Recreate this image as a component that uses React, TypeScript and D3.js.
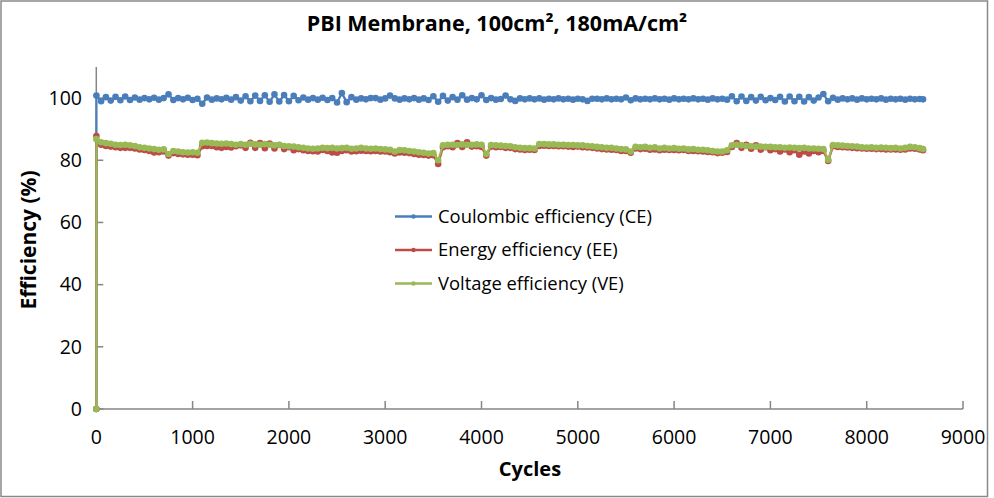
import React from 'react';
import * as d3 from 'd3';

const cycles: number[] = [0, 1, ...d3.range(50, 8551, 50), 8585];

const ceValues: number[] = [
  0, 100.8,
  99.0, 100.3, 99.2, 100.4, 99.3, 100.5, 99.4, 100.2, 99.5, 100.0,
  99.6, 100.1, 99.5, 100.0, 101.2, 99.4, 100.0, 99.6, 100.1, 99.4,
  99.8, 98.2, 100.2, 99.5, 99.9, 99.6, 100.1, 99.5, 100.3, 99.2,
  100.6, 99.0, 100.8, 99.1, 100.9, 98.8, 101.2, 98.9, 101.0, 99.0,
  100.7, 99.3, 100.2, 99.5, 100.0, 99.5, 100.1, 99.4, 100.0, 98.6,
  101.6, 98.7, 100.3, 99.5, 99.9, 99.6, 100.0, 100.0, 99.5, 99.9,
  100.8, 99.9, 99.5, 99.9, 99.6, 100.0, 99.5, 99.9, 99.4, 100.6,
  98.8, 100.7, 99.2, 100.3, 99.5, 100.9, 99.5, 100.0, 99.6, 100.9,
  99.4, 100.0, 99.5, 99.7, 100.8, 99.6, 99.1, 99.9, 99.6, 99.9,
  99.6, 99.9, 99.5, 99.8, 99.6, 99.9, 99.6, 99.8, 99.5, 99.8,
  99.6, 99.1, 99.8, 99.8, 99.6, 99.9, 99.6, 99.8, 99.6, 100.2,
  99.3, 99.9, 99.6, 99.8, 99.6, 99.9, 99.6, 99.8, 99.5, 99.9,
  99.6, 99.8, 99.6, 99.9, 99.6, 99.8, 99.5, 99.9, 99.6, 99.8,
  99.5, 100.6, 99.0, 100.5, 99.1, 100.3, 99.2, 100.4, 99.3, 100.0,
  99.4, 100.4, 98.9, 100.5, 99.0, 100.4, 98.9, 100.3, 99.2, 100.2,
  101.3, 99.0, 100.1, 99.5, 99.9, 99.6, 99.9, 99.5, 99.9, 99.6,
  99.8, 99.6, 99.9, 99.5, 99.8, 99.6, 99.8, 99.5, 99.8, 99.6,
  99.7, 99.6,
];

const eeValues: number[] = [
  0, 87.8,
  85.0, 84.6, 84.4, 84.2, 84.0, 84.0, 84.0, 83.8, 83.5, 83.3,
  83.0, 82.5, 82.6, 82.8, 81.5, 82.3, 82.0, 81.9, 81.8, 81.8,
  81.6, 84.5, 84.6, 84.6, 84.2, 84.0, 84.3, 84.1, 84.5, 84.8,
  84.0, 85.6, 84.0, 85.5, 83.9, 85.4, 83.8, 84.9, 83.6, 84.2,
  83.2, 83.6, 83.2, 83.0, 82.9, 82.8, 83.3, 83.0, 82.5, 82.4,
  83.0, 83.2, 82.8, 82.9, 83.1, 83.0, 82.9, 83.0, 82.8, 82.8,
  82.6, 82.2, 82.5, 82.4, 82.3, 82.0, 81.8, 81.7, 81.5, 81.6,
  78.8, 84.2, 84.5, 84.2, 85.5, 84.3, 85.8, 84.4, 84.5, 84.3,
  81.5, 84.4, 84.2, 84.3, 84.0, 84.0, 83.6, 83.5, 83.3, 83.4,
  83.3, 84.6, 84.7, 84.6, 84.6, 84.5, 84.5, 84.4, 84.3, 84.4,
  84.2, 84.1, 84.0, 83.8, 83.6, 83.5, 83.4, 83.3, 83.0, 83.0,
  82.4, 83.8, 83.6, 83.7, 83.4, 83.5, 83.2, 83.4, 83.3, 83.3,
  83.2, 83.3, 83.0, 83.0, 82.9, 82.8, 82.7, 82.6, 82.3, 82.4,
  82.7, 84.3, 85.5, 84.0, 85.0, 83.7, 84.8, 83.4, 84.2, 83.2,
  83.6, 82.8, 83.5, 82.6, 83.2, 81.8, 82.8, 82.2, 83.0, 82.6,
  83.0, 79.8, 84.5, 84.3, 84.2, 84.1, 84.0, 83.9, 83.8, 83.7,
  83.7, 83.6, 83.6, 83.5, 83.5, 83.5, 83.4, 83.5, 83.8, 83.7,
  83.5, 83.2,
];

const veValues: number[] = [
  0, 86.8,
  85.8, 85.5, 85.3, 85.0, 84.9, 85.0, 84.8, 84.6, 84.2, 84.0,
  83.8, 83.6, 83.4, 83.5, 82.0, 83.0, 82.8, 82.6, 82.5, 82.6,
  82.4, 85.6, 85.7, 85.5, 85.4, 85.3, 85.4, 85.2, 85.0, 85.2,
  85.0, 85.3, 85.1, 85.0, 85.2, 85.0, 84.8, 85.0, 84.6, 84.5,
  84.4, 84.2, 84.0, 83.8, 83.7, 83.8, 84.0, 83.9, 84.0, 83.8,
  83.9, 84.0, 83.7, 83.8, 84.0, 83.8, 83.7, 83.8, 83.6, 83.5,
  83.4, 82.8, 83.3, 83.2, 83.0, 82.8, 82.6, 82.4, 82.2, 82.3,
  80.0, 84.8, 85.0, 85.0, 84.9, 85.1, 85.0, 85.0, 85.1, 85.0,
  82.0, 84.9, 84.8, 84.7, 84.6, 84.5, 84.2, 84.0, 83.9, 83.9,
  83.8, 85.2, 85.2, 85.1, 85.1, 85.0, 85.0, 84.9, 84.9, 84.8,
  84.8, 84.6, 84.5, 84.3, 84.2, 84.0, 84.0, 83.8, 83.6, 83.5,
  82.8, 84.3, 84.2, 84.3, 84.0, 84.2, 83.8, 84.0, 83.8, 83.9,
  83.7, 83.8, 83.5, 83.6, 83.4, 83.4, 83.2, 83.0, 82.8, 82.8,
  83.2, 84.8, 85.0, 84.8, 84.6, 84.5, 84.4, 84.4, 84.3, 84.3,
  84.2, 84.2, 84.0, 84.1, 84.0, 83.9, 84.0, 83.8, 83.8, 83.7,
  83.6, 80.2, 84.9, 84.8, 84.7, 84.6, 84.5, 84.4, 84.2, 84.1,
  84.2, 84.0, 84.1, 84.0, 83.9, 84.0, 83.8, 84.0, 84.3, 84.2,
  83.9, 83.6,
];

const xTicks: number[] = [0, 1000, 2000, 3000, 4000, 5000, 6000, 7000, 8000, 9000];
const yTicks: number[] = [0, 20, 40, 60, 80, 100];

const seriesNames: string[] = [
  'Coulombic efficiency (CE)',
  'Energy efficiency (EE)',
  'Voltage efficiency (VE)',
];
const seriesColors: string[] = ['#4a7ebb', '#be4b48', '#98b954'];
const seriesData: number[][] = [ceValues, eeValues, veValues];

const W = 994;
const H = 498;
const FONT = "'Open Sans', 'Noto Sans', sans-serif";
const AXIS = '#868686';

export default function App() {
  const x = d3.scaleLinear().domain([0, 9000]).range([96.3, 963]);
  const y = d3.scaleLinear().domain([0, 110]).range([409, 67]);

  const line = d3
    .line<number>()
    .x((_, i) => x(cycles[i]))
    .y((d) => y(d));

  const legendX = 395;
  const legendY = [216.5, 250, 283.5];

  return (
    <svg
      width={W}
      height={H}
      viewBox={`0 0 ${W} ${H}`}
      style={{ position: 'absolute', left: 0, top: 0, background: '#fff' }}
      fontFamily={FONT}
    >
      <rect x={0} y={0} width={W} height={H} fill="#fff" />
      <rect x={1} y={1} width={986.5} height={495.5} fill="none" stroke="#898989" strokeWidth={1.5} />

      <text x={497} y={31} textAnchor="middle" fontSize={21.5} fontWeight="bold" fill="#000">
        PBI Membrane, 100cm², 180mA/cm²
      </text>

      {/* axes */}
      <line x1={x(0)} x2={x(0)} y1={y(110)} y2={y(0)} stroke={AXIS} strokeWidth={1.5} />
      <line x1={x(0)} x2={x(9000)} y1={y(0)} y2={y(0)} stroke={AXIS} strokeWidth={1.5} />
      {yTicks.map((t) => (
        <g key={`y${t}`}>
          <line x1={x(0)} x2={x(0) + 7} y1={y(t)} y2={y(t)} stroke={AXIS} strokeWidth={1.5} />
          <text x={82} y={y(t)} dy="0.35em" textAnchor="end" fontSize={19.5} fill="#000">
            {t}
          </text>
        </g>
      ))}
      {xTicks.map((t) => (
        <g key={`x${t}`}>
          <line x1={x(t)} x2={x(t)} y1={y(0)} y2={y(0) - 8} stroke={AXIS} strokeWidth={1.5} />
          <text x={x(t)} y={443.5} textAnchor="middle" fontSize={19.5} fill="#000">
            {t}
          </text>
        </g>
      ))}

      <text x={530} y={476} textAnchor="middle" fontSize={20} fontWeight="bold" fill="#000">
        Cycles
      </text>
      <text
        transform={`translate(36,240) rotate(-90)`}
        textAnchor="middle"
        fontSize={21}
        fontWeight="bold"
        fill="#000"
      >
        Efficiency (%)
      </text>

      {/* series */}
      {seriesData.map((vals, si) => (
        <g key={`s${si}`}>
          <path d={line(vals) || ''} fill="none" stroke={seriesColors[si]} strokeWidth={2.25} strokeLinejoin="round" />
          {vals.map((v, i) => (
            <circle key={i} cx={x(cycles[i])} cy={y(v)} r={3.3} fill={seriesColors[si]} />
          ))}
        </g>
      ))}

      {/* legend */}
      {seriesNames.map((name, i) => (
        <g key={`l${i}`}>
          <line
            x1={legendX}
            x2={legendX + 37}
            y1={legendY[i]}
            y2={legendY[i]}
            stroke={seriesColors[i]}
            strokeWidth={2.5}
          />
          <circle cx={legendX + 18.5} cy={legendY[i]} r={2.2} fill={seriesColors[i]} />
          <text x={438} y={legendY[i]} dy="0.35em" fontSize={18.4} fill="#000">
            {name}
          </text>
        </g>
      ))}
    </svg>
  );
}
